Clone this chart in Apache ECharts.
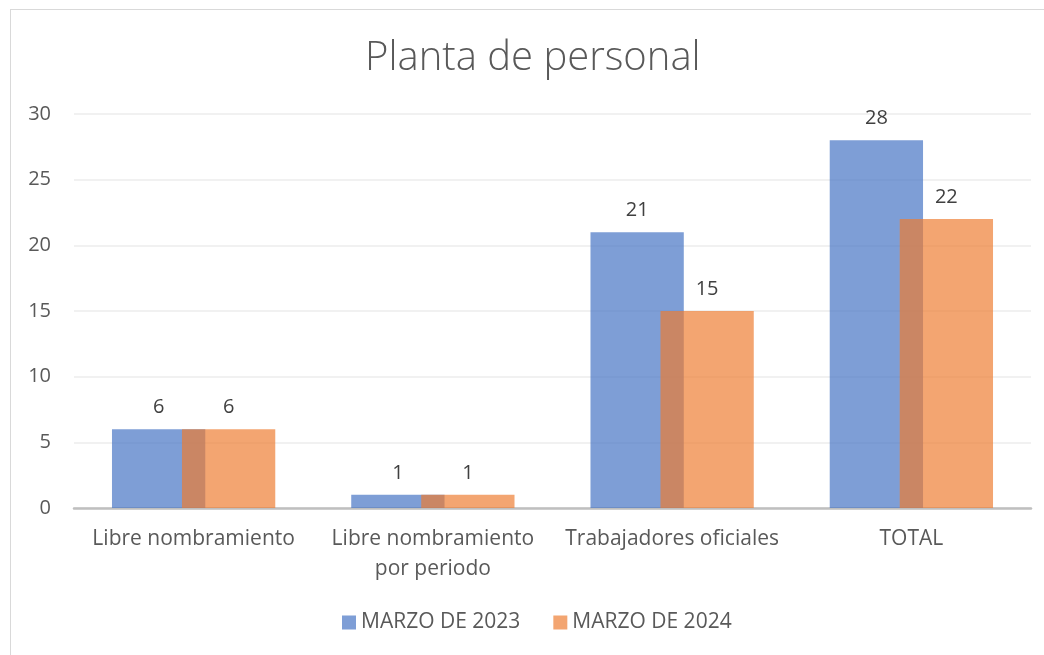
<!DOCTYPE html>
<html>
<head>
<meta charset="utf-8">
<script src="https://cdn.jsdelivr.net/npm/echarts@6/dist/echarts.min.js"></script>
<style>
html,body{margin:0;padding:0;background:#fff;}
#frame{position:absolute;left:10px;top:9px;width:1040px;height:650px;border:1px solid #d9d9d9;box-sizing:border-box;}
#chart{position:absolute;left:0;top:0;width:1044px;height:655px;}
</style>
</head>
<body>
<div id="frame"></div>
<div id="chart"></div>
<script>
const titleText = 'Planta de personal';
const categories = ['Libre nombramiento', 'Libre nombramiento\npor periodo', 'Trabajadores oficiales', 'TOTAL'];
const seriesNames = ['MARZO DE 2023', 'MARZO DE 2024'];
const values2023 = [6, 1, 21, 28];
const values2024 = [6, 1, 15, 22];

const chart = echarts.init(document.getElementById('chart'), null, {renderer: 'canvas'});
const fontFam = '"Open Sans", "Noto Sans", sans-serif';
const labelStyle = {show: true, position: 'top', distance: 12, color: '#404040', fontSize: 20, fontFamily: fontFam};
chart.setOption({
  backgroundColor: 'transparent',
  animation: false,
  title: {
    text: titleText, left: 360, top: 34,
    textStyle: {color: '#595959', fontSize: 40, fontWeight: 300, fontFamily: fontFam}
  },
  legend: {
    bottom: 17, left: 337, itemWidth: 14, itemHeight: 14, itemGap: 33,
    icon: 'rect',
    textStyle: {color: '#595959', fontSize: 21, fontFamily: fontFam},
    data: seriesNames
  },
  grid: {left: 74, right: 13, top: 114, bottom: 147, containLabel: false},
  xAxis: {
    type: 'category', data: categories,
    axisLine: {lineStyle: {color: '#bfbfbf', width: 2.5}},
    axisTick: {show: false},
    axisLabel: {color: '#595959', fontSize: 21, fontFamily: fontFam, margin: 16, lineHeight: 30, interval: 0}
  },
  yAxis: {
    type: 'value', min: 0, max: 30, interval: 5,
    axisLine: {show: false}, axisTick: {show: false},
    splitLine: {lineStyle: {color: '#ececec', width: 1.5}},
    axisLabel: {color: '#595959', fontSize: 20, fontFamily: fontFam, margin: 23}
  },
  series: [
    {name: seriesNames[0], type: 'bar', data: values2023, barWidth: '39%', barGap: '-25%',
     itemStyle: {color: 'rgba(68,114,196,0.69)'}, label: labelStyle},
    {name: seriesNames[1], type: 'bar', data: values2024, barWidth: '39%',
     itemStyle: {color: 'rgba(237,125,49,0.69)'}, label: labelStyle}
  ]
});
</script>
</body>
</html>
